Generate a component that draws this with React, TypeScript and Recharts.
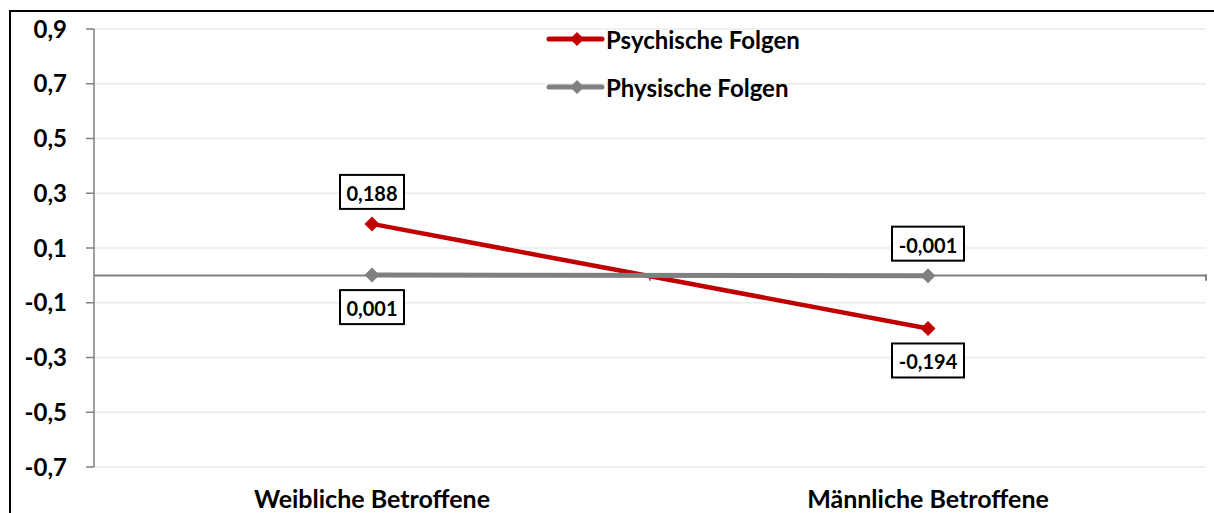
import { LineChart, Line, XAxis, YAxis, CartesianGrid, ReferenceLine, Legend, LabelList } from "recharts"

const categories = ["Weibliche Betroffene", "Männliche Betroffene"]
const psychischeFolgen = [0.188, -0.194]
const physischeFolgen = [0.001, -0.001]
const yTicks = [-0.7, -0.5, -0.3, -0.1, 0.1, 0.3, 0.5, 0.7, 0.9]

const RED = "#C00000"
const GRAY = "#808080"
const FONT = "Lato, 'Open Sans', sans-serif"

// x positions on a numeric axis so the axis ticks sit between the categories
const data = categories.map((name, i) => ({
    x: i + 0.5,
    name,
    psych: psychischeFolgen[i],
    phys: physischeFolgen[i],
}))

const fmt = (v: number) => v.toFixed(3).replace(".", ",")

const Diamond = (props: any) => {
    const { cx, cy, fill } = props
    if (cx == null || cy == null) return null
    const r = 7.5
    return <path d={`M${cx},${cy - r}L${cx + r},${cy}L${cx},${cy + r}L${cx - r},${cy}Z`} fill={fill} />
}

const makeLabel = (dirs: number[]) => (props: any) => {
    const { x, y, value, index } = props
    const text = fmt(value)
    const w = 24 + text.length * 8
    const h = 34
    const cy = y + dirs[index] * 32
    return (
        <g>
            <rect x={x - w / 2} y={cy - h / 2} width={w} height={h} fill="#fff" stroke="#000" strokeWidth={2} />
            <text x={x} y={cy + 1} textAnchor="middle" dominantBaseline="central" fontSize={20} fontWeight="bold" fill="#000" fontFamily={FONT}>
                {text}
            </text>
        </g>
    )
}

const LegendBox = () => (
    <div style={{ fontFamily: FONT, fontWeight: "bold", fontSize: 24, color: "#000" }}>
        {[
            { label: "Psychische Folgen", color: RED },
            { label: "Physische Folgen", color: GRAY },
        ].map((item) => (
            <div key={item.label} style={{ display: "flex", alignItems: "center", height: 48 }}>
                <svg width={60} height={16}>
                    <line x1={3} y1={8} x2={56} y2={8} stroke={item.color} strokeWidth={5} strokeLinecap="round" />
                    <path d="M31,1L38,8L31,15L24,8Z" fill={item.color} />
                </svg>
                <span>{item.label}</span>
            </div>
        ))}
    </div>
)

export default function App() {
    return (
        <div style={{ position: "absolute", left: 0, top: 0, width: 1214, height: 513, overflow: "hidden", background: "#fff" }}>
            <div style={{ position: "absolute", left: 9, top: 10, width: 1300, height: 600, border: "2px solid #000" }} />
            <div style={{ position: "absolute", left: 0, top: 0 }}>
                <LineChart width={1214} height={513} data={data} margin={{ top: 29, right: 8, left: 0, bottom: 0 }}>
                    <CartesianGrid horizontal vertical={false} stroke="#EBEBEB" strokeWidth={1.5} />
                    <XAxis
                        dataKey="x"
                        type="number"
                        domain={[0, 2]}
                        ticks={[0.5, 1.5]}
                        tickFormatter={(v) => categories[Math.floor(v)]}
                        axisLine={false}
                        tickLine={false}
                        tickSize={0}
                        tickMargin={23}
                        height={46}
                        tick={{ fontSize: 25, fontWeight: "bold", fill: "#000", fontFamily: FONT }}
                    />
                    <YAxis
                        type="number"
                        domain={[-0.7, 0.9]}
                        ticks={yTicks}
                        tickFormatter={(v) => v.toFixed(1).replace(".", ",")}
                        width={94}
                        stroke={GRAY}
                        strokeWidth={1.5}
                        tickSize={8}
                        tickMargin={19}
                        tick={{ fontSize: 24, fontWeight: "bold", fill: "#000", fontFamily: FONT }}
                    />
                    <ReferenceLine y={0} stroke={GRAY} strokeWidth={2} />
                    <ReferenceLine segment={[{ x: 1, y: 0 }, { x: 1, y: -0.02 }]} stroke={GRAY} strokeWidth={2} />
                    <ReferenceLine segment={[{ x: 2, y: 0.004 }, { x: 2, y: -0.02 }]} stroke={GRAY} strokeWidth={2} />
                    <Legend layout="vertical" align="center" verticalAlign="middle" content={<LegendBox />} wrapperStyle={{ top: 15, left: 546, width: 320 }} />
                    <Line dataKey="psych" stroke={RED} strokeWidth={4.5} dot={<Diamond fill={RED} />} isAnimationActive={false}>
                        <LabelList dataKey="psych" content={makeLabel([-1, 1])} />
                    </Line>
                    <Line dataKey="phys" stroke={GRAY} strokeWidth={5} dot={<Diamond fill={GRAY} />} isAnimationActive={false}>
                        <LabelList dataKey="phys" content={makeLabel([1, -1])} />
                    </Line>
                </LineChart>
            </div>
        </div>
    )
}
